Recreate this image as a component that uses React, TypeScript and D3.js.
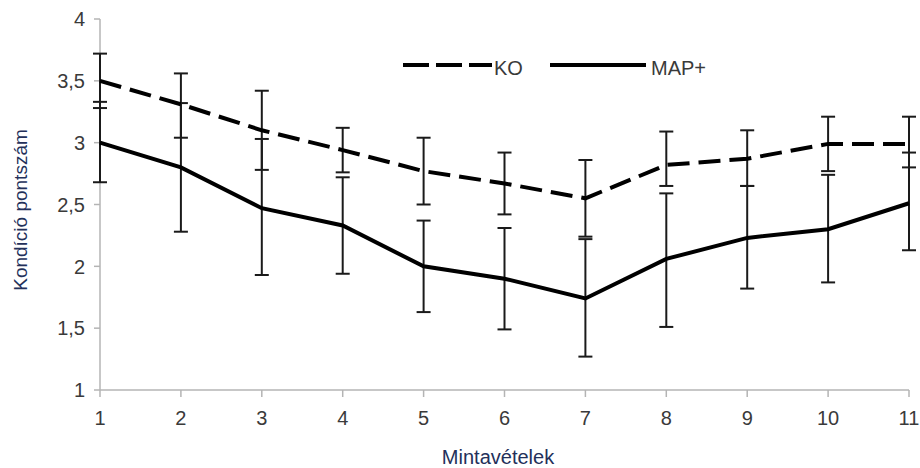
import { useMemo } from "react"
import * as d3 from "d3"

const samples = [1, 2, 3, 4, 5, 6, 7, 8, 9, 10, 11]
const yTicks = [1, 1.5, 2, 2.5, 3, 3.5, 4]

const koMean = [3.5, 3.31, 3.1, 2.94, 2.77, 2.67, 2.55, 2.82, 2.87, 2.99, 2.99]
const koHigh = [3.72, 3.56, 3.42, 3.12, 3.04, 2.92, 2.86, 3.09, 3.1, 3.21, 3.21]
const koLow = [3.28, 3.04, 2.78, 2.76, 2.5, 2.42, 2.24, 2.65, 2.65, 2.77, 2.8]

const mapMean = [3.0, 2.8, 2.47, 2.33, 2.0, 1.9, 1.74, 2.06, 2.23, 2.3, 2.51]
const mapHigh = [3.33, 3.32, 3.03, 2.72, 2.37, 2.31, 2.22, 2.59, 2.65, 2.74, 2.92]
const mapLow = [2.68, 2.28, 1.93, 1.94, 1.63, 1.49, 1.27, 1.51, 1.82, 1.87, 2.13]

const W = 920
const H = 468
const margin = { top: 19, right: 11, bottom: 78, left: 100 }
const axisColor = "#b4b4b4"
const textColor = "#3a3a3a"
const titleColor = "#23305a"
const font = "'Liberation Sans', Arial, sans-serif"

export default function App() {
  const x = useMemo(
    () => d3.scaleLinear().domain([1, 11]).range([margin.left, W - margin.right]),
    []
  )
  const y = useMemo(
    () => d3.scaleLinear().domain([1, 4]).range([H - margin.bottom, margin.top]),
    []
  )

  const line = d3
    .line<number>()
    .x((_, i) => x(samples[i]))
    .y((d) => y(d))

  const errBars = (hi: number[], lo: number[], key: string) =>
    samples.map((s, i) => (
      <g key={key + i} stroke="#1a1a1a" strokeWidth={2}>
        <line x1={x(s)} x2={x(s)} y1={y(hi[i])} y2={y(lo[i])} />
        <line x1={x(s) - 7} x2={x(s) + 7} y1={y(hi[i])} y2={y(hi[i])} />
        <line x1={x(s) - 7} x2={x(s) + 7} y1={y(lo[i])} y2={y(lo[i])} />
      </g>
    ))

  const x0 = x(1)
  const x1 = x(11)
  const yBottom = y(1)

  return (
    <svg
      width={W}
      height={H}
      style={{ position: "absolute", left: 0, top: 0, background: "#fff" }}
      fontFamily={font}
    >
      {/* axes */}
      <line x1={x0} x2={x0} y1={y(4)} y2={yBottom} stroke={axisColor} strokeWidth={1.5} />
      <line x1={x0} x2={x1} y1={yBottom} y2={yBottom} stroke={axisColor} strokeWidth={1.5} />
      {yTicks.map((t) => (
        <g key={"y" + t}>
          <line x1={x0 - 6} x2={x0} y1={y(t)} y2={y(t)} stroke={axisColor} strokeWidth={1.5} />
          <text
            x={x0 - 15}
            y={y(t)}
            dy="0.36em"
            textAnchor="end"
            fontSize={20}
            fill={textColor}
          >
            {String(t).replace(".", ",")}
          </text>
        </g>
      ))}
      {samples.map((s) => (
        <g key={"x" + s}>
          <line x1={x(s)} x2={x(s)} y1={yBottom} y2={yBottom + 7} stroke={axisColor} strokeWidth={1.5} />
          <text x={x(s)} y={yBottom + 35} textAnchor="middle" fontSize={20} fill={textColor}>
            {s}
          </text>
        </g>
      ))}

      {/* axis titles */}
      <text
        transform={`translate(27,210) rotate(-90)`}
        textAnchor="middle"
        fontSize={19}
        fill={titleColor}
      >
        Kondíció pontszám
      </text>
      <text x={498} y={464} textAnchor="middle" fontSize={20} fill={titleColor}>
        Mintavételek
      </text>

      {/* error bars */}
      {errBars(koHigh, koLow, "ko")}
      {errBars(mapHigh, mapLow, "map")}

      {/* lines */}
      <path
        d={line(koMean) ?? ""}
        fill="none"
        stroke="#000"
        strokeWidth={4}
        strokeDasharray="22,9"
      />
      <path d={line(mapMean) ?? ""} fill="none" stroke="#000" strokeWidth={4} />

      {/* legend */}
      <g>
        <line x1={403} x2={492} y1={65} y2={65} stroke="#000" strokeWidth={4} strokeDasharray="26,7" />
        <text x={494} y={75} fontSize={20} fill={textColor}>
          KO
        </text>
        <line x1={550} x2={646} y1={65} y2={65} stroke="#000" strokeWidth={4} />
        <text x={651} y={75} fontSize={20} fill={textColor}>
          MAP+
        </text>
      </g>
    </svg>
  )
}
